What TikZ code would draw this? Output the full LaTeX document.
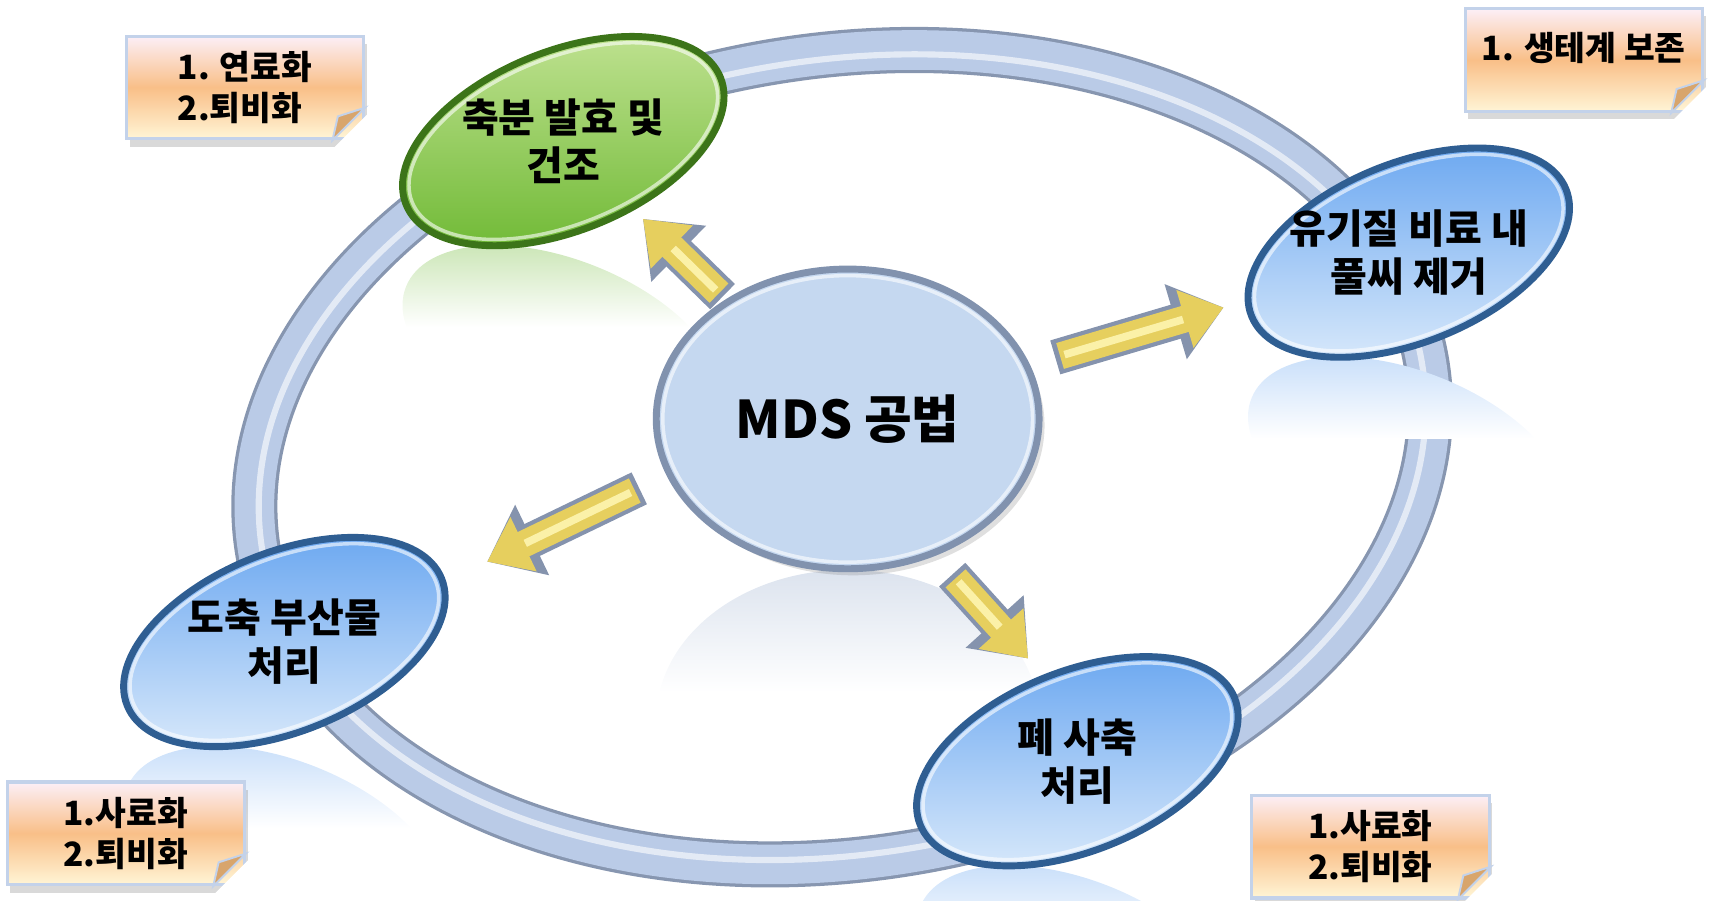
\documentclass[tikz,border=0pt]{standalone}
\usepackage{fontspec}
\newfontfamily\krfont{Noto Sans CJK KR}
\usetikzlibrary{positioning,calc,arrows.meta,shadows,backgrounds}

\definecolor{ringlight}{HTML}{BACBE7}
\definecolor{ringdark}{HTML}{8796B0}
\definecolor{bluelight}{HTML}{DCEBFB}
\definecolor{bluedeep}{HTML}{67A5F0}
\definecolor{bluerim}{HTML}{2F5E92}
\definecolor{greenlight}{HTML}{C2E394}
\definecolor{greendeep}{HTML}{6DB832}
\definecolor{greenrim}{HTML}{3C7419}
\definecolor{mdsfill}{HTML}{C5D8F0}
\definecolor{mdsrim}{HTML}{8192AE}
\definecolor{mdsrefl}{HTML}{DCE3EE}
\definecolor{gold}{HTML}{E6CF5E}
\definecolor{goldhi}{HTML}{FBF1A8}
\definecolor{goldedge}{HTML}{8593AD}
\definecolor{notetop}{HTML}{FCEFF7}
\definecolor{notemid}{HTML}{F9BF88}
\definecolor{notebot}{HTML}{FFF5D6}
\definecolor{noteline}{HTML}{C3D2EA}
\definecolor{notefold}{HTML}{D8A56C}

\tikzset{
  hubtext/.style={font=\krfont\bfseries\fontsize{13.5}{15}\selectfont},
  blobtext/.style={font=\krfont\bfseries\fontsize{10.4}{12.5}\selectfont, align=center},
  note/.style={rectangle, minimum width=2.17cm, minimum height=0.94cm, inner sep=2pt,
    top color=notetop, bottom color=notebot, middle color=notemid,
    draw=noteline, line width=0.8pt, align=left,
    font=\krfont\bfseries\fontsize{8.7}{10.5}\selectfont,
    drop shadow={opacity=0.3, shadow xshift=0.03cm, shadow yshift=-0.07cm}},
  blueblob/.style={top color=bluedeep, bottom color=bluelight, draw=bluerim, line width=1.8pt},
  greenblob/.style={top color=greenlight, bottom color=greendeep, draw=greenrim, line width=1.8pt},
  bevel/.style={draw=white, opacity=0.6, line width=0.9pt},
  goldarrow/.style={line width=7pt, draw=gold, shorten <=1.3pt,
    -{Triangle[length=10.5pt,width=15pt]},
    preaction={draw=goldedge, line width=9.2pt, shorten <=0pt, -{Triangle[length=13pt,width=19.5pt]}},
    postaction={draw=goldhi, line width=2pt, -, shorten >=11pt, shorten <=2.5pt}},
}

\begin{document}
\begin{tikzpicture}
\useasboundingbox (0,0) rectangle (15.68,8.23);

\node[hubtext] (mds) at (7.75,4.40) {MDS 공법};
\node[blobtext] (drying) at (5.15,6.94) {축분 발효 및\\건조};
\node[blobtext] (weed) at (12.88,5.92) {유기질 비료 내\\풀씨 제거};
\node[blobtext] (slaughter) at (2.60,2.36) {도축 부산물\\처리};
\node[blobtext] (carcass) at (9.85,1.27) {폐 사축\\처리};

\begin{scope}[on background layer]
% ring
\draw[ringdark, line width=12pt, rotate around={9:(7.70,4.05)}] (7.70,4.05) ellipse (5.41 and 3.67);
\draw[ringlight, line width=10.3pt, rotate around={9:(7.70,4.05)}] (7.70,4.05) ellipse (5.41 and 3.67);
\draw[white, opacity=0.6, line width=1.6pt, rotate around={9:(7.70,4.05)}] (7.70,4.05) ellipse (5.37 and 3.63);
% reflections
\foreach \cx/\cy/\tint in {5.15/6.94/greendeep, 12.88/5.92/bluedeep, 2.60/2.36/bluedeep, 9.85/1.27/bluedeep}{
  \begin{scope}
    \clip[rotate around={-22:(\cx,\cy-1.91)}] (\cx,\cy-1.91) ellipse (1.55 and 0.82);
    \shade[top color=\tint!35!white, bottom color=white] (\cx-1.7,\cy-0.95) rectangle (\cx+1.7,\cy-1.7);
  \end{scope}
}
\begin{scope}
  \clip (7.75,1.65) ellipse (1.75 and 1.37);
  \shade[top color=mdsrefl, bottom color=white] (5.9,3.02) rectangle (9.6,1.9);
\end{scope}
% ellipses
\fill[mdsfill, drop shadow={opacity=0.25, shadow xshift=0.05cm, shadow yshift=-0.06cm}] (mds) ellipse (1.75 and 1.37);
\draw[mdsrim, line width=1.8pt] (mds) ellipse (1.75 and 1.37);
\draw[bevel] (mds) ellipse (1.69 and 1.31);
\shade[greenblob, rotate around={22:(drying)}] (drying) ellipse (1.55 and 0.82);
\draw[bevel, rotate around={22:(drying)}] (drying) ellipse (1.49 and 0.76);
\shade[blueblob, rotate around={22:(weed)}] (weed) ellipse (1.55 and 0.82);
\draw[bevel, rotate around={22:(weed)}] (weed) ellipse (1.49 and 0.76);
\shade[blueblob, rotate around={22:(slaughter)}] (slaughter) ellipse (1.55 and 0.82);
\draw[bevel, rotate around={22:(slaughter)}] (slaughter) ellipse (1.49 and 0.76);
\shade[blueblob, rotate around={22:(carcass)}] (carcass) ellipse (1.55 and 0.82);
\draw[bevel, rotate around={22:(carcass)}] (carcass) ellipse (1.49 and 0.76);
\end{scope}

\draw[goldarrow] ($(mds)!.44!(drying)$) -- ($(mds)!.72!(drying)$);
\draw[goldarrow] ($(mds)!.37!(weed)$) -- ($(mds)!.67!(weed)$);
\draw[goldarrow] ($(mds)!.37!(slaughter)+(0,0.12)$) -- ($(mds)!.64!(slaughter)$);
\draw[goldarrow] ($(mds)!.455!(carcass)$) -- ($(mds)!.70!(carcass)+(0.18,0)$);

\node[note] (fuel) at (2.24,7.43) {1. 연료화\\2.퇴비화};
\node[note, text depth=0.25cm] (eco) at (14.48,7.68) {1. 생테계 보존};
\node[note] (feedA) at (1.15,0.61) {1.사료화\\2.퇴비화};
\node[note] (feedB) at (12.53,0.49) {1.사료화\\2.퇴비화};
\foreach \n in {fuel,eco,feedA,feedB}{
  \fill[white] ($(\n.south east)+(-0.3,-0.08)$) -- ($(\n.south east)+(0.08,-0.08)$) -- ($(\n.south east)+(0.08,0.3)$) -- cycle;
  \filldraw[fill=notefold, draw=noteline, line width=0.5pt] ($(\n.south east)+(-0.3,0)$) -- ($(\n.south east)+(0,0.3)$) -- ($(\n.south east)+(-0.25,0.22)$) -- cycle;
}
\end{tikzpicture}
\end{document}
